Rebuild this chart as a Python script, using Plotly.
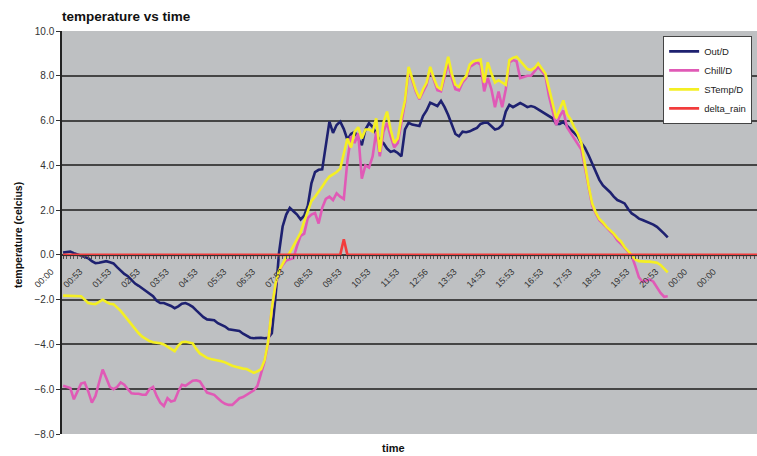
import plotly.graph_objects as go

# ---- data (one value per logged row, 8 rows per labelled hour) ----
tick_labels = ["00:00", "00:53", "01:53", "02:53", "03:53", "04:53", "05:53", "06:53",
               "07:53", "08:53", "09:53", "10:53", "11:53", "12:56", "13:53", "14:53",
               "15:53", "16:53", "17:53", "18:53", "19:53", "20:53", "00:00", "00:00"]
rows_per_label = 8

out_d = [0.10, 0.12, 0.15, 0.08, 0.02, -0.03, -0.07, -0.15, -0.28, -0.37,
         -0.35, -0.30, -0.28, -0.33, -0.38, -0.55, -0.72, -0.85, -0.95, -1.10,
         -1.28, -1.38, -1.50, -1.62, -1.72, -1.85, -2.05, -2.15, -2.15, -2.20,
         -2.28, -2.38, -2.30, -2.18, -2.15, -2.22, -2.32, -2.48, -2.65, -2.78,
         -2.88, -2.90, -2.92, -3.05, -3.12, -3.20, -3.32, -3.35, -3.38, -3.40,
         -3.52, -3.62, -3.70, -3.72, -3.70, -3.70, -3.72, -3.70, -3.50, -1.90,
         0.10, 1.27, 1.80, 2.10, 1.95, 1.80, 1.58, 1.75, 2.20, 3.20,
         3.70, 3.80, 3.82, 5.00, 5.95, 5.45, 5.80, 5.95, 5.62, 5.15,
         5.40, 5.50, 5.20, 4.90, 5.60, 5.88, 5.72, 5.40, 5.10, 5.00,
         4.75, 4.60, 4.65, 4.55, 4.40, 5.60, 5.90, 5.82, 5.78, 5.76,
         6.20, 6.45, 6.80, 6.72, 6.65, 6.88, 6.60, 6.25, 5.85, 5.40,
         5.30, 5.50, 5.48, 5.52, 5.60, 5.67, 5.85, 5.90, 5.90, 5.75,
         5.60, 5.65, 5.80, 6.40, 6.70, 6.60, 6.70, 6.78, 6.70, 6.60,
         6.65, 6.60, 6.50, 6.40, 6.30, 6.20, 6.10, 5.85, 5.85, 5.94,
         5.75, 5.60, 5.45, 5.28, 5.00, 4.78, 4.45, 4.10, 3.70, 3.35,
         3.10, 2.95, 2.80, 2.60, 2.45, 2.38, 2.30, 2.05, 1.85, 1.75,
         1.62, 1.56, 1.50, 1.43, 1.35, 1.25, 1.12, 0.95, 0.78]

chill_d = [-5.85, -5.90, -5.95, -6.45, -6.10, -5.75, -5.70, -6.10, -6.60, -6.30,
           -5.70, -5.12, -5.50, -5.90, -6.00, -5.90, -5.70, -5.80, -6.00, -6.18,
           -6.20, -6.20, -6.25, -6.25, -6.00, -5.90, -6.30, -6.60, -6.75, -6.40,
           -6.55, -6.50, -6.10, -5.80, -5.85, -5.75, -5.62, -5.60, -5.65, -5.90,
           -6.15, -6.20, -6.25, -6.40, -6.55, -6.65, -6.70, -6.70, -6.55, -6.40,
           -6.35, -6.25, -6.15, -6.05, -5.85, -5.30, -4.75, -3.90, -2.45, -1.35,
           -0.75, -0.45, -0.25, -0.20, -0.15, 0.40, 0.85, 0.95, 1.65, 1.80,
           1.87, 1.40, 2.10, 2.50, 2.60, 2.45, 2.75, 2.60, 2.50, 4.20,
           5.30, 5.00, 5.44, 3.40, 4.00, 3.90, 4.40, 5.50, 4.40, 5.50,
           5.90, 5.30, 4.80, 5.00, 6.00, 6.80, 8.30, 7.80, 7.30, 6.95,
           7.30, 7.60, 8.30, 7.80, 7.35, 7.30, 8.00, 8.60, 7.90, 7.40,
           7.35, 7.70, 7.90, 8.40, 8.50, 8.60, 8.50, 7.30, 7.90, 7.40,
           6.60, 7.30, 6.60, 7.40, 8.60, 8.70, 8.65, 7.90, 7.95, 8.00,
           8.00, 8.20, 8.40, 8.20, 8.00, 7.10, 6.40, 5.80, 6.20, 6.45,
           5.70, 5.44, 5.20, 4.90, 4.70, 3.90, 3.00, 2.20, 1.85, 1.55,
           1.40, 1.20, 1.05, 0.90, 0.65, 0.50, 0.30, 0.10, -0.05, -0.50,
           -1.00, -1.20, -1.15, -1.10, -1.20, -1.45, -1.70, -1.87, -1.85]

stemp_d = [-1.82, -1.82, -1.82, -1.83, -1.82, -1.85, -2.00, -2.15, -2.18, -2.20,
           -2.10, -2.00, -2.10, -2.18, -2.20, -2.35, -2.50, -2.70, -2.90, -3.15,
           -3.35, -3.50, -3.65, -3.75, -3.85, -3.90, -3.92, -3.95, -4.00, -4.10,
           -4.20, -4.30, -4.05, -3.90, -3.88, -3.90, -3.95, -4.20, -4.40, -4.50,
           -4.60, -4.65, -4.68, -4.70, -4.75, -4.80, -4.88, -4.95, -5.00, -5.05,
           -5.08, -5.10, -5.20, -5.27, -5.20, -5.10, -4.70, -3.85, -2.40, -1.30,
           -0.70, -0.37, -0.10, 0.10, 0.40, 0.67, 1.00, 1.50, 2.00, 2.40,
           2.60, 2.80, 3.05, 3.30, 3.50, 3.60, 3.70, 3.85, 4.50, 5.20,
           4.80, 5.50, 5.70, 5.20, 5.60, 5.60, 5.50, 6.10, 4.60, 5.90,
           6.40, 5.60, 5.00, 5.20, 6.16, 6.90, 8.40, 7.90, 7.37, 7.00,
           7.40, 7.70, 8.40, 7.90, 7.50, 7.40, 8.20, 8.85, 8.10, 7.60,
           7.50, 7.80, 8.00, 8.50, 8.65, 8.70, 8.72, 7.70, 8.60, 8.10,
           7.70, 7.80, 7.70, 7.60, 8.70, 8.80, 8.85, 8.65, 8.50, 8.30,
           8.25, 8.35, 8.55, 8.35, 8.10, 7.45, 6.80, 6.10, 6.50, 6.90,
           6.30, 6.05, 5.70, 5.40, 5.00, 4.00, 3.10, 2.30, 1.90, 1.60,
           1.45, 1.25, 1.10, 0.95, 0.75, 0.60, 0.35, 0.15, 0.00, -0.20,
           -0.28, -0.30, -0.30, -0.30, -0.32, -0.35, -0.45, -0.60, -0.78]

delta_rain = [0.0] * 78 + [0.7] + [0.0] * 115

series = [("Out/D", out_d, "#1E2170"),
          ("Chill/D", chill_d, "#E05AB6"),
          ("STemp/D", stemp_d, "#F4EF24"),
          ("delta_rain", delta_rain, "#F23C3C")]

fig = go.Figure()
for name, vals, col in series:
    fig.add_trace(go.Scatter(x=list(range(len(vals))), y=vals, mode="lines", name=name,
                             line=dict(color=col, width=2.6)))

tickvals = [i * rows_per_label for i in range(len(tick_labels))]

fig.update_layout(
    width=757, height=456,
    margin=dict(l=62, r=0, t=31, b=22),
    paper_bgcolor="white",
    plot_bgcolor="#BEC0C2",
    font=dict(family="Liberation Sans, Arial, sans-serif", size=9, color="#333333"),
    title=dict(text="<b>temperature vs time</b>", x=62 / 757, xanchor="left", xref="container",
               y=1 - 16 / 456, yanchor="middle", yref="container",
               font=dict(size=13.5, color="#111111")),
    showlegend=True,
    legend=dict(x=0.993, xanchor="right", y=0.988, yanchor="top", bgcolor="white",
                bordercolor="#444444", borderwidth=1, font=dict(size=9.5, color="#222222"),
                tracegroupgap=0),
    xaxis=dict(range=[-0.3, 192.8], anchor="free", position=8 / 18,
               tickmode="array", tickvals=tickvals, ticktext=tick_labels,
               tickangle=-45, tickfont=dict(size=9, color="#333333"),
               ticklabelshift=-12, ticklabelstandoff=4,
               showgrid=False, zeroline=False, showline=True, linecolor="#333333",
               ticks="outside", ticklen=3, tickcolor="#444444",
               minor=dict(tickmode="linear", tick0=0, dtick=1, ticks="outside",
                          ticklen=3, tickcolor="#555555", showgrid=False)),
    yaxis=dict(range=[-8, 10], tickmode="linear", tick0=-8, dtick=2, tickformat=".1f",
               showgrid=True, gridcolor="#454545", gridwidth=1.5,
               zeroline=False, showline=True, linecolor="#222222", linewidth=1.5,
               ticks="outside", ticklen=4, tickcolor="#333333",
               tickfont=dict(size=10, color="#333333")),
    annotations=[
        dict(text="<b>temperature (celcius)</b>", xref="paper", yref="paper",
             x=-(62 - 18) / 695, y=(434 - 235) / 403, xanchor="center", yanchor="middle",
             textangle=-90, showarrow=False, font=dict(size=10.5, color="#111111")),
        dict(text="<b>time</b>", xref="paper", yref="paper",
             x=(393 - 62) / 695, y=-(448 - 434) / 403, xanchor="center", yanchor="middle",
             showarrow=False, font=dict(size=11, color="#111111")),
    ],
)

fig.write_html("out.html", config={"displayModeBar": False},
               post_script="document.body.style.margin='0px';")
